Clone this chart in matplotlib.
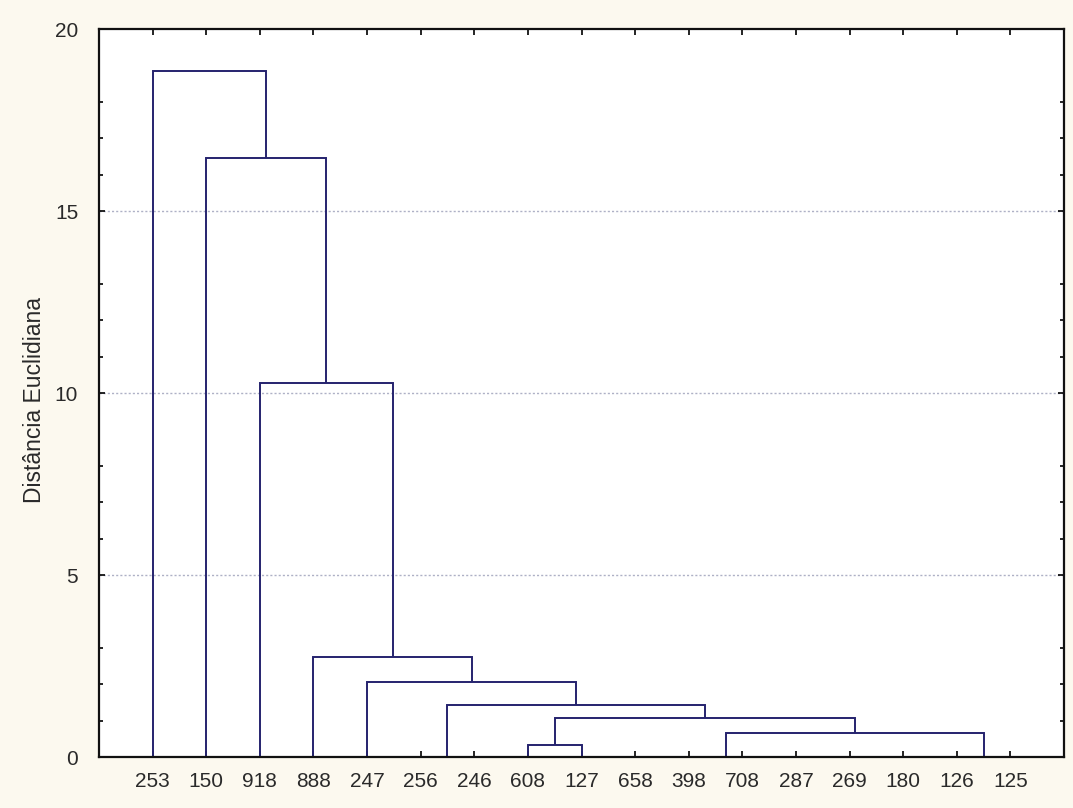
import matplotlib
matplotlib.use("Agg")
import matplotlib.pyplot as plt
import numpy as np

# ---- data ----
leaf_labels = ["253", "150", "918", "888", "247", "256", "246", "608", "127",
               "658", "398", "708", "287", "269", "180", "126", "125"]

# merges: (left node, right node, linkage distance); nodes 0..16 are leaves,
# node 17+k is the cluster created by merge k (scipy-like convention)
merge_left = [5, 15, 7, 10, 20, 13, 21, 9, 24, 19, 17, 4, 3, 2, 1, 0]
merge_right = [6, 16, 8, 11, 12, 14, 22, 23, 18, 25, 26, 27, 28, 29, 30, 31]
merge_height = [0.0, 0.0, 0.32, 0.0, 0.0, 0.0, 0.0, 0.0, 0.65, 1.06, 1.44,
                2.06, 2.74, 10.27, 16.45, 18.85]

y_major = [0, 5, 10, 15, 20]
y_minor_left = [1, 2, 3, 6, 7, 8, 11, 12, 13, 16, 17, 18]
y_label = "Distância Euclidiana"

# ---- layout of the tree ----
n = len(leaf_labels)
pos = {i: i + 1.0 for i in range(n)}
hgt = {i: 0.0 for i in range(n)}
segments = []
for k, (a, b, h) in enumerate(zip(merge_left, merge_right, merge_height)):
    node = n + k
    xa, xb = pos[a], pos[b]
    segments.append(([xa, xa, xb, xb], [hgt[a], h, h, hgt[b]]))
    pos[node] = (xa + xb) / 2.0
    hgt[node] = h

# ---- figure ----
plt.rcParams['font.family'] = ['Liberation Sans', 'DejaVu Sans']
fig = plt.figure(figsize=(10.73, 8.08), dpi=100, facecolor="#fcf9ef")
ax = fig.add_axes([0.0923, 0.0631, 0.8993, 0.9010])
ax.set_facecolor("white")

line_color = "#25236e"
for xs, ys in segments:
    ax.plot(xs, ys, color=line_color, lw=1.4, solid_capstyle="butt",
            solid_joinstyle="miter", zorder=2)

ax.set_xlim(0, n + 1)
ax.set_ylim(0, 20)

ax.set_xticks(np.arange(1, n + 1))
ax.set_xticklabels(leaf_labels, fontsize=15, color="#2a2a2a")
ax.set_yticks(y_major)
ax.set_yticklabels([str(v) for v in y_major], fontsize=15, color="#2a2a2a")
ax.set_yticks(y_minor_left, minor=True)

ax.tick_params(axis="x", which="both", direction="in", top=True, bottom=True,
               length=4, width=1.2, pad=11, colors="black", labelcolor="#2a2a2a")
ax.tick_params(axis="y", which="major", direction="in", left=True, right=True,
               length=4, width=1.2, pad=15, labelcolor="#2a2a2a")
ax.tick_params(axis="y", which="minor", direction="in", left=True, right=True,
               length=3, width=1.2)

for y in [5, 10, 15]:
    ax.axhline(y, color="#aeb1c6", lw=1.0, ls=(0, (1.5, 1.5)), zorder=1)

for sp in ax.spines.values():
    sp.set_linewidth(1.6)
    sp.set_color("#111111")
    sp.set_zorder(3)

ax.set_ylabel(y_label, fontsize=16.5, color="#2a2a2a")
ax.yaxis.set_label_coords(-0.055, 0.49)

fig.savefig("out.png", dpi=100, facecolor=fig.get_facecolor())
